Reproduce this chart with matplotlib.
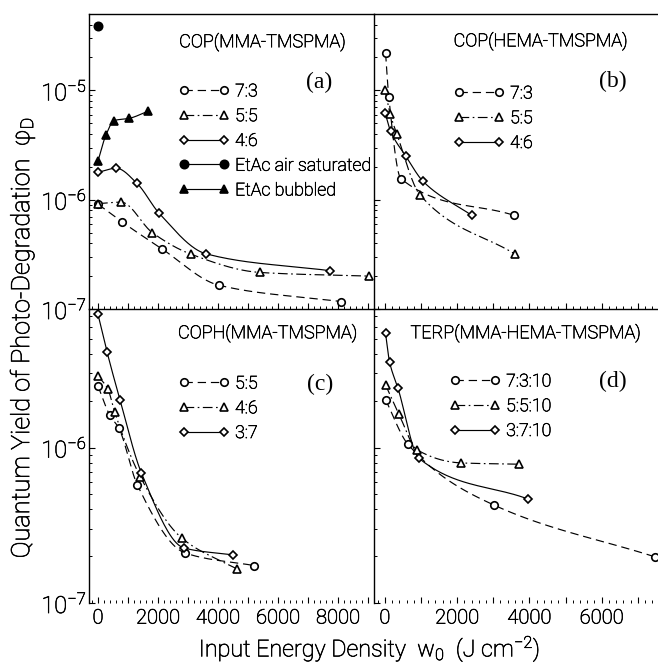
import numpy as np
import matplotlib
matplotlib.use('Agg')
import matplotlib.pyplot as plt
import matplotlib.patheffects as pe
from matplotlib.lines import Line2D
from matplotlib.ticker import LogLocator, MultipleLocator, FuncFormatter, NullFormatter, LogFormatterMathtext

plt.rcParams['font.family'] = ['Roboto', 'DejaVu Sans']
plt.rcParams['font.weight'] = 'light'
plt.rcParams['mathtext.fontset'] = 'custom'
plt.rcParams['mathtext.rm'] = 'Roboto:light'
plt.rcParams['mathtext.it'] = 'Roboto:italic:light'
plt.rcParams['mathtext.default'] = 'regular'
plt.rcParams['lines.scale_dashes'] = False

PE = [pe.withStroke(linewidth=0.45, foreground='k')]

# ---------------- data ----------------
# (a) COP(MMA-TMSPMA)
a_73_x = [0, 800, 2130, 4030, 8090]
a_73_y = [9.1e-7, 6.27e-7, 3.55e-7, 1.65e-7, 1.17e-7]
a_55_x = [0, 770, 1810, 3090, 5400, 9020]
a_55_y = [9.2e-7, 9.5e-7, 5.0e-7, 3.18e-7, 2.16e-7, 2.0e-7]
a_46_x = [0, 610, 1300, 2040, 3600, 7730]
a_46_y = [1.78e-6, 1.94e-6, 1.41e-6, 7.5e-7, 3.2e-7, 2.24e-7]
a_air_x = [0]
a_air_y = [3.9e-5]
a_bub_x = [0, 270, 540, 1040, 1680]
a_bub_y = [2.26e-6, 3.94e-6, 5.3e-6, 5.55e-6, 6.47e-6]

# (b) COP(HEMA-TMSPMA)
b_73_x = [20, 110, 443, 3570]
b_73_y = [2.19e-5, 8.7e-6, 1.56e-6, 7.2e-7]
b_55_x = [10, 147, 332, 970, 3600]
b_55_y = [1.0e-5, 6.1e-6, 4.0e-6, 1.11e-6, 3.18e-7]
b_46_x = [10, 158, 582, 1060, 2400]
b_46_y = [6.2e-6, 4.25e-6, 2.5e-6, 1.47e-6, 7.2e-7]

# (c) COPH(MMA-TMSPMA)
c_55_x = [0, 390, 690, 1310, 2900, 5210]
c_55_y = [2.49e-6, 1.62e-6, 1.34e-6, 5.76e-7, 2.1e-7, 1.74e-7]
c_46_x = [0, 333, 557, 1410, 2790, 4643]
c_46_y = [2.9e-6, 2.37e-6, 1.69e-6, 6.5e-7, 2.62e-7, 1.65e-7]
c_37_x = [0, 300, 733, 1443, 2867, 4510]
c_37_y = [7.2e-6, 4.14e-6, 2.03e-6, 6.9e-7, 2.26e-7, 2.04e-7]

# (d) TERP(MMA-HEMA-TMSPMA)
d_73_x = [20, 640, 3030, 7480]
d_73_y = [2.03e-6, 1.05e-6, 4.26e-7, 1.98e-7]
d_55_x = [20, 390, 895, 2115, 3725]
d_55_y = [2.53e-6, 1.64e-6, 9.67e-7, 7.97e-7, 7.82e-7]
d_37_x = [20, 130, 360, 940, 3950]
d_37_y = [5.44e-6, 3.57e-6, 2.43e-6, 8.55e-7, 4.68e-7]

titles = ['COP(MMA-TMSPMA)', 'COP(HEMA-TMSPMA)', 'COPH(MMA-TMSPMA)', 'TERP(MMA-HEMA-TMSPMA)']
letters = ['(a)', '(b)', '(c)', '(d)']

# ---------------- styles ----------------
DASH = (0, (6, 3.5))
DASHDOT = (0, (7, 2.5, 1.2, 2.5))
SOLID = '-'
STY = {
    'circ': dict(marker='o', ls=DASH, ms=5.4, fill='white'),
    'tri': dict(marker='^', ls=DASHDOT, ms=5.8, fill='white'),
    'dia': dict(marker='D', ls=SOLID, ms=4.0, fill='white'),
    'fcirc': dict(marker='o', ls=SOLID, ms=6, fill='k'),
    'ftri': dict(marker='^', ls=SOLID, ms=6, fill='k'),
}


def smooth(x, y, n=40):
    x = np.asarray(x, float)
    ly = np.log10(np.asarray(y, float))
    if len(x) < 3:
        return x, 10 ** ly
    h = np.diff(x)
    d = np.diff(ly) / h
    m = np.zeros_like(x)
    m[0] = d[0]
    m[-1] = d[-1]
    for k in range(1, len(x) - 1):
        if d[k - 1] * d[k] <= 0:
            m[k] = 0.0
        else:
            w1 = 2 * h[k] + h[k - 1]
            w2 = h[k] + 2 * h[k - 1]
            m[k] = (w1 + w2) / (w1 / d[k - 1] + w2 / d[k])
    xs, ys = [], []
    for k in range(len(x) - 1):
        t = np.linspace(0, 1, n)
        h00 = 2 * t**3 - 3 * t**2 + 1
        h10 = t**3 - 2 * t**2 + t
        h01 = -2 * t**3 + 3 * t**2
        h11 = t**3 - t**2
        yy = h00 * ly[k] + h10 * h[k] * m[k] + h01 * ly[k + 1] + h11 * h[k] * m[k + 1]
        xs.append(x[k] + t * h[k])
        ys.append(yy)
    return np.concatenate(xs), 10 ** np.concatenate(ys)


def draw(ax, x, y, key):
    s = STY[key]
    sx, sy = smooth(x, y)
    ax.plot(sx, sy, color='k', lw=0.85, linestyle=s['ls'], zorder=2)
    ax.plot(x, y, linestyle='none', marker=s['marker'], ms=s['ms'], mfc=s['fill'],
            mec='k', mew=1.2, zorder=3, clip_on=False)


def proxy(key):
    s = STY[key]
    return Line2D([], [], color='k', lw=0.85, linestyle=s['ls'], marker=s['marker'],
                  ms=s['ms'], mfc=s['fill'], mec='k', mew=1.2)


# ---------------- figure ----------------
W, H = 658, 665
fig = plt.figure(figsize=(W / 100, H / 100), dpi=100)
xl, xm, xr = 89 / W, 374 / W, 1.0
ytop_b, ytop_t = 1 - 309 / H, 1 - 14 / H
ybot_b = 1 - 603 / H
axA = fig.add_axes([xl, ytop_b, xm - xl, ytop_t - ytop_b])
axB = fig.add_axes([xm, ytop_b, xr - xm, ytop_t - ytop_b])
axC = fig.add_axes([xl, ybot_b, xm - xl, ytop_b - ybot_b])
axD = fig.add_axes([xm, ybot_b, xr - xm, ytop_b - ybot_b])
axes = [axA, axB, axC, axD]

for ax in axes:
    ax.set_yscale('log')
    ax.set_facecolor('none')
    for sp in ['bottom', 'right']:
        ax.spines[sp].set_visible(False)
    for sp in ['top', 'left']:
        ax.spines[sp].set_linewidth(1.0)
    ax.yaxis.set_major_locator(LogLocator(base=10))
    ax.yaxis.set_minor_locator(LogLocator(base=10, subs=np.arange(2, 10)))
    ax.yaxis.set_minor_formatter(NullFormatter())
    ax.xaxis.set_major_locator(MultipleLocator(1000))
    ax.xaxis.set_minor_locator(MultipleLocator(200))
    ax.tick_params(axis='both', which='major', direction='in', length=4.2, width=0.8,
                   top=False, right=False)
    ax.tick_params(axis='both', which='minor', direction='in', length=2.0, width=0.7,
                   top=False, right=False)
    ax.tick_params(axis='y', which='major', labelsize=17, pad=1.5)
    ax.tick_params(axis='x', which='major', labelsize=14.5, pad=4)

axA.set_xlim(-300, 9200)
axC.set_xlim(-300, 9200)
axB.set_xlim(-300, 7560)
axD.set_xlim(-300, 7560)
axA.set_ylim(1e-7, 5e-5)
axB.set_ylim(1e-7, 5e-5)
axC.set_ylim(1e-7, 7.8e-6)
axD.set_ylim(1e-7, 7.8e-6)

xfmt = FuncFormatter(lambda v, p: ('%d' % v) if (round(v) % 2000 == 0 and v >= 0) else '')
for ax in [axC, axD]:
    ax.xaxis.set_major_formatter(xfmt)
for ax in [axA, axB]:
    ax.xaxis.set_major_formatter(NullFormatter())
for ax in [axA, axC]:
    ax.yaxis.set_major_formatter(LogFormatterMathtext())
for ax in [axB, axD]:
    ax.yaxis.set_major_formatter(NullFormatter())

# panel (a)
draw(axA, a_73_x, a_73_y, 'circ')
draw(axA, a_55_x, a_55_y, 'tri')
draw(axA, a_46_x, a_46_y, 'dia')
draw(axA, a_air_x, a_air_y, 'fcirc')
draw(axA, a_bub_x, a_bub_y, 'ftri')
# panel (b)
draw(axB, b_73_x, b_73_y, 'circ')
draw(axB, b_55_x, b_55_y, 'tri')
draw(axB, b_46_x, b_46_y, 'dia')
# panel (c)
draw(axC, c_55_x, c_55_y, 'circ')
draw(axC, c_46_x, c_46_y, 'tri')
draw(axC, c_37_x, c_37_y, 'dia')
# panel (d)
draw(axD, d_73_x, d_73_y, 'circ')
draw(axD, d_55_x, d_55_y, 'tri')
draw(axD, d_37_x, d_37_y, 'dia')

leg_kw = dict(loc='upper left', frameon=False, numpoints=2, handlelength=2.8,
              handletextpad=0.35, labelspacing=0.38, borderpad=0, borderaxespad=0,
              fontsize=12.8)
legs = []
legs.append(axA.legend([proxy('circ'), proxy('tri'), proxy('dia'), proxy('fcirc'), proxy('ftri')],
                       ['7:3', '5:5', '4:6', 'EtAc air saturated', 'EtAc bubbled'],
                       bbox_to_anchor=(0.316, 0.768), **leg_kw))
legs.append(axB.legend([proxy('circ'), proxy('tri'), proxy('dia')], ['7:3', '5:5', '4:6'],
                       bbox_to_anchor=(0.282, 0.761), **leg_kw))
legs.append(axC.legend([proxy('circ'), proxy('tri'), proxy('dia')], ['5:5', '4:6', '3:7'],
                       bbox_to_anchor=(0.316, 0.777), **leg_kw))
legs.append(axD.legend([proxy('circ'), proxy('tri'), proxy('dia')], ['7:3:10', '5:5:10', '3:7:10'],
                       bbox_to_anchor=(0.268, 0.784), **leg_kw))
for lg in legs:
    for t in lg.get_texts():
        t.set_path_effects(PE)

title_pos = [(0.607, 0.905), (0.585, 0.908), (0.625, 0.918), (0.532, 0.918)]
letter_pos = [(0.807, 0.769), (0.842, 0.773), (0.811, 0.745), (0.842, 0.755)]
for ax, t, (tx, ty), l, (lx, ly) in zip(axes, titles, title_pos, letters, letter_pos):
    ax.text(tx, ty, t, transform=ax.transAxes, ha='center', va='center', fontsize=13,
            path_effects=PE)
    ax.text(lx, ly, l, transform=ax.transAxes, ha='center', va='center', fontsize=17,
            family='Liberation Serif', fontweight='normal')

fig.text(0.562, 0.024, 'Input Energy Density  w$_0$  (J cm$^{-2}$)', ha='center',
         va='center', fontsize=16.8, path_effects=PE)
fig.text(0.034, 0.492, 'Quantum Yield of Photo-Degradation  φ$_D$', ha='center',
         va='center', rotation=90, fontsize=18.2, path_effects=PE)

for ax in axes:
    for lbl in ax.xaxis.get_majorticklabels() + ax.yaxis.get_majorticklabels():
        lbl.set_path_effects(PE)
    for tk in ax.xaxis.get_major_ticks() + ax.yaxis.get_major_ticks():
        tk.label1.set_path_effects(PE)

fig.savefig('out.png', dpi=100)
